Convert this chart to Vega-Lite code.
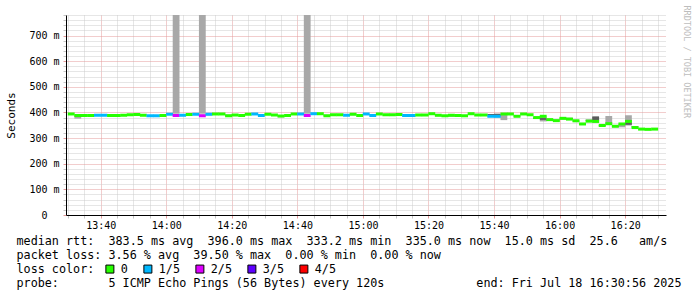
{
  "$schema": "https://vega.github.io/schema/vega-lite/v6.json",
  "width": 600,
  "height": 200,
  "autosize": {"type": "none"},
  "padding": {"left": 66, "top": 15, "right": 31, "bottom": 82},
  "background": "white",
  "config": {"view": {"stroke": null}, "font": "DejaVu Sans Mono"},
  "data": {
    "values": [
      {"t": "1900-01-01T13:31:00Z", "m": 394, "l": "0"},
      {"t": "1900-01-01T13:33:00Z", "m": 388, "l": "0", "lo": 376, "hi": 390},
      {"t": "1900-01-01T13:35:00Z", "m": 388, "l": "0"},
      {"t": "1900-01-01T13:37:00Z", "m": 388, "l": "0", "dlo": 386, "dhi": 391},
      {"t": "1900-01-01T13:39:00Z", "m": 389, "l": "1/5"},
      {"t": "1900-01-01T13:41:00Z", "m": 389, "l": "1/5", "dlo": 388, "dhi": 392},
      {"t": "1900-01-01T13:43:00Z", "m": 388, "l": "0"},
      {"t": "1900-01-01T13:45:00Z", "m": 388, "l": "0", "lo": 383, "hi": 389},
      {"t": "1900-01-01T13:47:00Z", "m": 389, "l": "0"},
      {"t": "1900-01-01T13:49:00Z", "m": 391, "l": "0"},
      {"t": "1900-01-01T13:51:00Z", "m": 392, "l": "0", "dlo": 389, "dhi": 392},
      {"t": "1900-01-01T13:53:00Z", "m": 389, "l": "0"},
      {"t": "1900-01-01T13:55:00Z", "m": 387, "l": "1/5"},
      {"t": "1900-01-01T13:57:00Z", "m": 387, "l": "1/5"},
      {"t": "1900-01-01T13:59:00Z", "m": 388, "l": "0"},
      {"t": "1900-01-01T14:01:00Z", "m": 393, "l": "1/5"},
      {"t": "1900-01-01T14:03:00Z", "m": 388, "l": "2/5", "lo": 395, "hi": 800},
      {"t": "1900-01-01T14:05:00Z", "m": 389, "l": "1/5"},
      {"t": "1900-01-01T14:07:00Z", "m": 392, "l": "0"},
      {"t": "1900-01-01T14:09:00Z", "m": 393, "l": "1/5"},
      {"t": "1900-01-01T14:11:00Z", "m": 387, "l": "2/5", "lo": 395, "hi": 800, "dlo": 387, "dhi": 391},
      {"t": "1900-01-01T14:13:00Z", "m": 393, "l": "1/5", "dlo": 389, "dhi": 392},
      {"t": "1900-01-01T14:15:00Z", "m": 394, "l": "0"},
      {"t": "1900-01-01T14:17:00Z", "m": 394, "l": "0"},
      {"t": "1900-01-01T14:19:00Z", "m": 387, "l": "0", "dlo": 387, "dhi": 391},
      {"t": "1900-01-01T14:21:00Z", "m": 390, "l": "0"},
      {"t": "1900-01-01T14:23:00Z", "m": 388, "l": "0"},
      {"t": "1900-01-01T14:25:00Z", "m": 393, "l": "0"},
      {"t": "1900-01-01T14:27:00Z", "m": 394, "l": "1/5"},
      {"t": "1900-01-01T14:29:00Z", "m": 388, "l": "1/5", "lo": 388, "hi": 393},
      {"t": "1900-01-01T14:31:00Z", "m": 393, "l": "0"},
      {"t": "1900-01-01T14:33:00Z", "m": 390, "l": "0", "lo": 386, "hi": 391},
      {"t": "1900-01-01T14:35:00Z", "m": 386, "l": "0", "lo": 381, "hi": 388},
      {"t": "1900-01-01T14:37:00Z", "m": 388, "l": "0"},
      {"t": "1900-01-01T14:39:00Z", "m": 394, "l": "0", "dlo": 391, "dhi": 394},
      {"t": "1900-01-01T14:41:00Z", "m": 394, "l": "1/5"},
      {"t": "1900-01-01T14:43:00Z", "m": 388, "l": "2/5", "lo": 395, "hi": 800},
      {"t": "1900-01-01T14:45:00Z", "m": 395, "l": "1/5"},
      {"t": "1900-01-01T14:47:00Z", "m": 395, "l": "0"},
      {"t": "1900-01-01T14:49:00Z", "m": 387, "l": "0", "lo": 386, "hi": 391},
      {"t": "1900-01-01T14:51:00Z", "m": 391, "l": "0"},
      {"t": "1900-01-01T14:53:00Z", "m": 391, "l": "0", "dlo": 390, "dhi": 393},
      {"t": "1900-01-01T14:55:00Z", "m": 389, "l": "1/5"},
      {"t": "1900-01-01T14:57:00Z", "m": 393, "l": "0", "lo": 389, "hi": 394},
      {"t": "1900-01-01T14:59:00Z", "m": 388, "l": "0"},
      {"t": "1900-01-01T15:01:00Z", "m": 394, "l": "1/5"},
      {"t": "1900-01-01T15:03:00Z", "m": 388, "l": "1/5", "dlo": 389, "dhi": 393},
      {"t": "1900-01-01T15:05:00Z", "m": 394, "l": "0"},
      {"t": "1900-01-01T15:07:00Z", "m": 391, "l": "0"},
      {"t": "1900-01-01T15:09:00Z", "m": 391, "l": "0"},
      {"t": "1900-01-01T15:11:00Z", "m": 392, "l": "0"},
      {"t": "1900-01-01T15:13:00Z", "m": 388, "l": "1/5"},
      {"t": "1900-01-01T15:15:00Z", "m": 388, "l": "1/5"},
      {"t": "1900-01-01T15:17:00Z", "m": 390, "l": "0"},
      {"t": "1900-01-01T15:19:00Z", "m": 390, "l": "0"},
      {"t": "1900-01-01T15:21:00Z", "m": 395, "l": "0"},
      {"t": "1900-01-01T15:23:00Z", "m": 389, "l": "0", "lo": 385, "hi": 390},
      {"t": "1900-01-01T15:25:00Z", "m": 387, "l": "0", "dlo": 384, "dhi": 388},
      {"t": "1900-01-01T15:27:00Z", "m": 389, "l": "0", "lo": 383, "hi": 390},
      {"t": "1900-01-01T15:29:00Z", "m": 388, "l": "0"},
      {"t": "1900-01-01T15:31:00Z", "m": 387, "l": "0"},
      {"t": "1900-01-01T15:33:00Z", "m": 395, "l": "0"},
      {"t": "1900-01-01T15:35:00Z", "m": 390, "l": "0"},
      {"t": "1900-01-01T15:37:00Z", "m": 390, "l": "0"},
      {"t": "1900-01-01T15:39:00Z", "m": 385, "l": "1/5", "dlo": 385, "dhi": 394},
      {"t": "1900-01-01T15:41:00Z", "m": 385, "l": "1/5", "lo": 380, "hi": 386, "dlo": 386, "dhi": 395},
      {"t": "1900-01-01T15:43:00Z", "m": 394, "l": "0", "lo": 370, "hi": 392},
      {"t": "1900-01-01T15:45:00Z", "m": 394, "l": "0"},
      {"t": "1900-01-01T15:47:00Z", "m": 385, "l": "0", "dlo": 384, "dhi": 388},
      {"t": "1900-01-01T15:49:00Z", "m": 394, "l": "0"},
      {"t": "1900-01-01T15:51:00Z", "m": 391, "l": "0"},
      {"t": "1900-01-01T15:53:00Z", "m": 380, "l": "0", "dlo": 375, "dhi": 381},
      {"t": "1900-01-01T15:55:00Z", "m": 385, "l": "0", "lo": 365, "hi": 384, "dlo": 371, "dhi": 378},
      {"t": "1900-01-01T15:57:00Z", "m": 372, "l": "0", "dlo": 368, "dhi": 374},
      {"t": "1900-01-01T15:59:00Z", "m": 368, "l": "0", "lo": 364, "hi": 372},
      {"t": "1900-01-01T16:01:00Z", "m": 377, "l": "0", "lo": 372, "hi": 378},
      {"t": "1900-01-01T16:03:00Z", "m": 374, "l": "0", "dlo": 374, "dhi": 379},
      {"t": "1900-01-01T16:05:00Z", "m": 368, "l": "0", "lo": 362, "hi": 370},
      {"t": "1900-01-01T16:07:00Z", "m": 355, "l": "0", "dlo": 352, "dhi": 357},
      {"t": "1900-01-01T16:09:00Z", "m": 366, "l": "0", "dlo": 366, "dhi": 372},
      {"t": "1900-01-01T16:11:00Z", "m": 365, "l": "0", "lo": 360, "hi": 386, "dlo": 366, "dhi": 383},
      {"t": "1900-01-01T16:13:00Z", "m": 349, "l": "0", "dlo": 346, "dhi": 351},
      {"t": "1900-01-01T16:15:00Z", "m": 356, "l": "0", "lo": 354, "hi": 386},
      {"t": "1900-01-01T16:17:00Z", "m": 346, "l": "0", "dlo": 343, "dhi": 348},
      {"t": "1900-01-01T16:19:00Z", "m": 355, "l": "0", "lo": 342, "hi": 356},
      {"t": "1900-01-01T16:21:00Z", "m": 365, "l": "0", "lo": 349, "hi": 389, "dlo": 352, "dhi": 361},
      {"t": "1900-01-01T16:23:00Z", "m": 341, "l": "0", "dlo": 341, "dhi": 346},
      {"t": "1900-01-01T16:25:00Z", "m": 335, "l": "0"},
      {"t": "1900-01-01T16:27:00Z", "m": 334, "l": "0"},
      {"t": "1900-01-01T16:29:00Z", "m": 335, "l": "0"}
    ]
  },
  "resolve": {"axis": {"y": "independent"}},
  "layer": [
    {
      "mark": {"type": "bar", "color": "#a8a8a8", "width": 6.8, "clip": true},
      "encoding": {
        "x": {
          "field": "t", "type": "temporal",
          "scale": {"type": "utc", "domain": [
            {"year": 1900, "month": 1, "date": 1, "hours": 13, "minutes": 30, "seconds": 56, "utc": true},
            {"year": 1900, "month": 1, "date": 1, "hours": 16, "minutes": 30, "seconds": 56, "utc": true}
          ]},
          "axis": {
            "tickCount": 36,
            "labelExpr": "utcminutes(datum.value) % 20 === 0 ? utcFormat(datum.value, '%H:%M') : ''",
            "labelFont": "DejaVu Sans Mono", "labelFontSize": 10, "labelColor": "#000",
            "labelPadding": 2, "labelOverlap": false, "labelFlush": false, "labelBound": false,
            "labelAngle": 0, "labelBaseline": "top",
            "tickSize": 3,
            "tickColor": {"condition": {"test": "utcminutes(datum.value) % 20 === 0", "value": "#e49a9a"}, "value": "#c4c4c4"},
            "grid": true,
            "gridColor": {"condition": {"test": "utcminutes(datum.value) % 20 === 0", "value": "#e49a9a"}, "value": "#cccccc"},
            "gridDash": [1, 1],
            "domainColor": "#000", "domainWidth": 1,
            "title": [
              "median rtt:\u00a0\u00a0383.5 ms avg\u00a0\u00a0396.0 ms max\u00a0\u00a0333.2 ms min\u00a0\u00a0335.0 ms now\u00a0\u00a015.0 ms sd\u00a0\u00a025.6\u00a0\u00a0\u00a0am/s",
              "packet loss: 3.56 % avg\u00a0\u00a039.50 % max\u00a0\u00a00.00 % min\u00a0\u00a00.00 % now",
              "loss color:",
              "probe:\u00a0\u00a0\u00a0\u00a0\u00a0\u00a0\u00a05 ICMP Echo Pings (56 Bytes) every 120s\u00a0\u00a0\u00a0\u00a0\u00a0\u00a0\u00a0\u00a0\u00a0\u00a0\u00a0\u00a0\u00a0end: Fri Jul 18 16:30:56 2025"
            ],
            "titleFont": "DejaVu Sans Mono", "titleFontSize": 11.75, "titleFontWeight": "normal",
            "titleColor": "#000", "titleLineHeight": 14,
            "titleX": -50, "titleY": 20, "titleAlign": "left", "titleBaseline": "top", "titleAnchor": "start"
          }
        },
        "y": {
          "field": "lo", "type": "quantitative",
          "scale": {"domain": [0, 780], "nice": false, "zero": true},
          "axis": {
            "values": [0, 20, 40, 60, 80, 100, 120, 140, 160, 180, 200, 220, 240, 260, 280, 300, 320, 340, 360, 380, 400, 420, 440, 460, 480, 500, 520, 540, 560, 580, 600, 620, 640, 660, 680, 700, 720, 740, 760, 780],
            "labelExpr": "datum.value % 100 === 0 ? (datum.value === 0 ? '0' : datum.value + ' m') : ''",
            "labelFont": "DejaVu Sans Mono", "labelFontSize": 10, "labelColor": "#000",
            "labelPadding": {"condition": {"test": "datum.value === 0", "value": 16}, "value": 4},
            "labelOverlap": false, "labelFlush": false, "labelBound": false,
            "tickSize": 3,
            "tickColor": {"condition": {"test": "datum.value % 100 === 0", "value": "#e49a9a"}, "value": "#c4c4c4"},
            "grid": true,
            "gridColor": {"condition": {"test": "datum.value % 100 === 0", "value": "#e49a9a"}, "value": "#cccccc"},
            "gridDash": [1, 1],
            "domainColor": "#000", "domainWidth": 1,
            "title": "Seconds", "titleFont": "DejaVu Sans Mono", "titleFontSize": 11, "titleFontWeight": "normal",
            "titleColor": "#000", "titleAngle": -90, "titleX": -55, "titleY": 100,
            "titleAlign": "center", "titleBaseline": "middle"
          }
        },
        "y2": {"field": "hi"}
      }
    },
    {
      "mark": {"type": "bar", "color": "#5c5c5c", "width": 6.8, "clip": true},
      "encoding": {
        "x": {"field": "t", "type": "temporal"},
        "y": {"field": "dlo", "type": "quantitative", "axis": null},
        "y2": {"field": "dhi"}
      }
    },
    {
      "mark": {"type": "tick", "orient": "horizontal", "thickness": 3, "size": 6.9, "opacity": 1, "clip": true},
      "encoding": {
        "x": {"field": "t", "type": "temporal"},
        "y": {
          "field": "m", "type": "quantitative",
          "axis": {
            "orient": "right", "labels": false, "ticks": false, "domain": false, "grid": false,
            "title": "RRDTOOL / TOBI OETIKER", "titleFont": "DejaVu Sans Mono", "titleFontSize": 8.5,
            "titleFontWeight": "normal", "titleColor": "#bdbdbd", "titleAngle": 90,
            "titleX": 20, "titleY": -10, "titleAlign": "left", "titleBaseline": "middle"
          }
        },
        "color": {
          "field": "l", "type": "nominal",
          "scale": {"domain": ["0", "1/5", "2/5", "3/5", "4/5"], "range": ["#26ff00", "#00b8ff", "#dd00ff", "#5e00ff", "#ff0000"]},
          "legend": {
            "orient": "none", "legendX": 38, "legendY": 248, "direction": "horizontal", "columns": 5,
            "title": null,
            "labelFont": "DejaVu Sans Mono", "labelFontSize": 11.75, "labelColor": "#000", "labelOffset": 5,
            "columnPadding": 13, "padding": 0, "symbolType": "square", "symbolSize": 64,
            "symbolStrokeColor": "#000", "symbolStrokeWidth": 1, "symbolOpacity": 1
          }
        }
      }
    }
  ]
}
